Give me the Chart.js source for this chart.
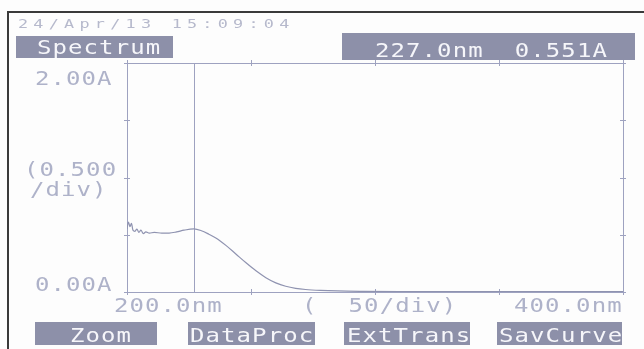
<!DOCTYPE html>
<html>
<head>
<meta charset="utf-8">
<script src="https://cdn.jsdelivr.net/npm/chart.js@4.4.1/dist/chart.umd.min.js"></script>
<style>
  html, body { margin: 0; padding: 0; background: #fdfdfd; }
  #wrap { position: relative; width: 644px; height: 349px; overflow: hidden; }
  #frame { position: absolute; left: 7px; top: 11px; right: -4px; bottom: -4px;
           border-left: 2px solid #3a3a3a; border-top: 2px solid #3a3a3a; }
  canvas { position: absolute; left: 0; top: 0; }
  .lbl { position: absolute; font-family: "DejaVu Sans Mono", monospace; font-size: 20px;
         line-height: 20px; letter-spacing: 0.9px; white-space: pre; color: #f6f6fa;
         transform: scaleX(1.2); transform-origin: 0 0; }
  .bar { position: absolute; background: #8d90a9; }
  #date { font-size: 12px; line-height: 12px; letter-spacing: 3.75px; color: #b6b9cc;
          transform: scaleX(1.4); }
</style>
</head>
<body>
<div id="wrap">
  <div id="frame"></div>
  <canvas id="spectrum-chart" width="644" height="349"></canvas>
  <div id="date" class="lbl" style="left:18px; top:18px;"></div>
  <div class="bar" style="left:16px; top:36px; width:157px; height:22px;"></div>
  <div class="lbl" style="left:37px; top:37px;">Spectrum</div>
  <div class="bar" style="left:342px; top:33px; width:293px; height:27px;"></div>
  <div id="readout" class="lbl" style="left:375px; top:40px;"></div>
  <div id="menu"></div>
</div>
<script>
const stamp = "24/Apr/13 15:09:04";
const cursorNm = 227.0;
const cursorAbs = 0.551;

const wavelengths = [200.0, 200.6, 201.2, 201.8, 202.4, 203.2, 204.0, 204.8, 205.6, 206.6,
    207.6, 209, 211, 214, 217, 220, 223, 227, 230, 233, 236, 240, 244, 248, 252, 256,
    260, 264, 268, 272, 278, 285, 295, 310, 330, 360, 400];
const absorbance = [0.55, 0.61, 0.57, 0.60, 0.54, 0.53, 0.55, 0.52, 0.54, 0.51,
    0.525, 0.515, 0.52, 0.515, 0.515, 0.525, 0.54, 0.551, 0.535, 0.505, 0.47, 0.405, 0.33, 0.255, 0.185, 0.125,
    0.08, 0.05, 0.032, 0.022, 0.014, 0.009, 0.006, 0.004, 0.003, 0.003, 0.003];

const xTicks = [200, 250, 300, 350, 400];
const yTicks = [0, 0.5, 1.0, 1.5, 2.0];
const menuItems = ["Zoom", "DataProc", "ExtTrans", "SavCurve"];

const menuBars = [[35, 122, 70], [188, 127, 190], [344, 126, 347], [497, 125, 499]];

function buildMenu() {
    const menu = document.getElementById('menu');
    menuItems.forEach((name, i) => {
        const [left, width, textLeft] = menuBars[i];
        const bar = document.createElement('div');
        bar.className = 'bar';
        bar.style.cssText = `left:${left}px; top:322px; width:${width}px; height:23px;`;
        menu.appendChild(bar);
        const lbl = document.createElement('div');
        lbl.className = 'lbl';
        lbl.style.cssText = `left:${textLeft}px; top:325px;`;
        lbl.textContent = name;
        menu.appendChild(lbl);
    });
    document.getElementById('date').textContent = stamp;
    document.getElementById('readout').textContent =
        cursorNm.toFixed(1) + "nm  " + cursorAbs.toFixed(3) + "A";
}

// wide monospace text, like the instrument's screen font
function wideText(ctx, str, x, y) {
    ctx.save();
    ctx.translate(x, y);
    ctx.scale(1.2, 1);
    ctx.fillText(str, 0, 0);
    ctx.restore();
}

const scopePlugin = {
    id: 'scope',
    beforeDatasetsDraw(chart) {
        const ctx = chart.ctx;
        const xs = chart.scales.x, ys = chart.scales.y;
        const l = xs.getPixelForValue(xTicks[0]), r = xs.getPixelForValue(xTicks[xTicks.length - 1]);
        const b = ys.getPixelForValue(yTicks[0]), t = ys.getPixelForValue(yTicks[yTicks.length - 1]);
        ctx.save();
        ctx.strokeStyle = '#9ea2c0';
        ctx.lineWidth = 1;
        ctx.beginPath();
        ctx.rect(Math.round(l) + 0.5, Math.round(t) + 0.5, Math.round(r - l), Math.round(b - t));
        // tick crosses on all four sides
        xTicks.forEach(v => {
            const x = Math.round(xs.getPixelForValue(v)) + 0.5;
            ctx.moveTo(x, b - 3); ctx.lineTo(x, b + 3);
            ctx.moveTo(x, t - 3); ctx.lineTo(x, t + 3);
        });
        yTicks.forEach(v => {
            const y = Math.round(ys.getPixelForValue(v)) + 0.5;
            ctx.moveTo(l - 3, y); ctx.lineTo(l + 3, y);
            ctx.moveTo(r - 3, y); ctx.lineTo(r + 3, y);
        });
        // cursor line
        const cx = Math.round(xs.getPixelForValue(cursorNm)) + 0.5;
        ctx.moveTo(cx, t); ctx.lineTo(cx, b);
        ctx.stroke();

        // axis captions
        ctx.fillStyle = '#aeb2c9';
        ctx.font = '20px "DejaVu Sans Mono"';
        ctx.letterSpacing = '0.9px';
        ctx.textBaseline = 'alphabetic';
        ctx.textAlign = 'left';
        const yMax = yTicks[yTicks.length - 1], yStep = yTicks[1] - yTicks[0];
        wideText(ctx, yMax.toFixed(2) + "A", 35, t + 22);
        wideText(ctx, "(" + yStep.toFixed(3), 24, 176);
        wideText(ctx, "/div)", 30, 196);
        wideText(ctx, yTicks[0].toFixed(2) + "A", 35, b - 1);
        wideText(ctx, xTicks[0].toFixed(1) + "nm", 114, b + 20);
        wideText(ctx, "(  " + (xTicks[1] - xTicks[0]) + "/div)", 302, b + 20);
        wideText(ctx, xTicks[xTicks.length - 1].toFixed(1) + "nm", 514, b + 20);
        ctx.restore();
    }
};

function buildSpectrumChart() {
    const ctx = document.getElementById('spectrum-chart').getContext('2d');
    return new Chart(ctx, {
        type: 'line',
        data: {
            datasets: [{
                label: 'Abs',
                data: wavelengths.map((w, i) => ({ x: w, y: absorbance[i] })),
                borderColor: '#8f93b0',
                borderWidth: 1.2,
                pointRadius: 0,
                cubicInterpolationMode: 'monotone'
            }]
        },
        options: {
            responsive: false,
            animation: false,
            devicePixelRatio: 1,
            layout: { padding: { left: 127, right: 21, top: 63, bottom: 57 } },
            plugins: { legend: { display: false }, tooltip: { enabled: false } },
            scales: {
                x: { type: 'linear', min: 200, max: 400, display: false },
                y: { type: 'linear', min: 0, max: 2, display: false }
            }
        },
        plugins: [scopePlugin]
    });
}

function initPage() {
    buildMenu();
    buildSpectrumChart();
}

document.addEventListener('DOMContentLoaded', initPage);
</script>
</body>
</html>
